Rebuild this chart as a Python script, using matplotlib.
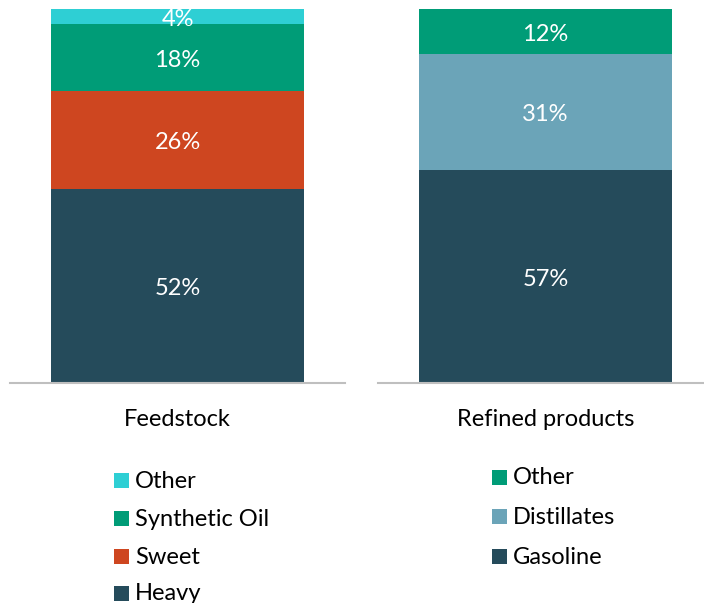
import matplotlib
matplotlib.use("Agg")
import matplotlib.pyplot as plt
import matplotlib.transforms as mtransforms

plt.rcParams['font.family'] = ['Lato', 'DejaVu Sans']

# Data
feed_labels = ["Heavy", "Sweet", "Synthetic Oil", "Other"]
feed_values = [52, 26, 18, 4]
feed_colors = ["#254B5B", "#CE4620", "#009C77", "#2ECFD4"]

ref_labels = ["Gasoline", "Distillates", "Other"]
ref_values = [57, 31, 12]
ref_colors = ["#254B5B", "#6BA4B8", "#009C77"]

categories = ["Feedstock", "Refined products"]

W, H = 704, 603
fig = plt.figure(figsize=(W / 100, H / 100), dpi=100)

def make_axes(left_px):
    return fig.add_axes([left_px / W, (H - 383) / H, 335 / W, 374 / H])

panels = [
    (make_axes(10), feed_labels, feed_values, feed_colors, categories[0], 114, [480, 518, 556, 593]),
    (make_axes(378), ref_labels, ref_values, ref_colors, categories[1], 492, [477, 516, 556]),
]

FS = 17
for ax, labels, values, colors, cat, leg_x, leg_ys in panels:
    shift = mtransforms.offset_copy(ax.transData, fig=fig, x=0, y=-3, units="dots")
    bottom = 0
    for lab, v, c in zip(labels, values, colors):
        ax.bar(0, v, bottom=bottom, width=0.755, color=c, linewidth=0)
        ax.text(0, bottom + v / 2, f"{v}%", ha="center", va="center",
                color="white", fontsize=FS, transform=shift)
        bottom += v
    ax.set_xlim(-0.5, 0.5)
    ax.set_ylim(0, 100)
    for s in ["top", "left", "right"]:
        ax.spines[s].set_visible(False)
    ax.spines["bottom"].set_color("#BFBFBF")
    ax.spines["bottom"].set_linewidth(1.5)
    ax.set_yticks([])
    ax.set_xticks([])
    ax.text(0.5, -36 / 374, cat, transform=ax.transAxes, ha="center",
            va="center", fontsize=FS, color="#000000")
    # legend entries (reverse order: top of stack first)
    for lab, c, y in zip(labels[::-1], colors[::-1], leg_ys):
        sq = 15
        fig.patches.append(plt.Rectangle((leg_x / W, (H - y - sq / 2) / H),
                                         sq / W, sq / H, transform=fig.transFigure,
                                         color=c, linewidth=0))
        fig.text((leg_x + 21) / W, (H - y - 1) / H, lab, ha="left", va="center",
                 fontsize=FS, color="#000000")

fig.savefig("out.png", dpi=100)
